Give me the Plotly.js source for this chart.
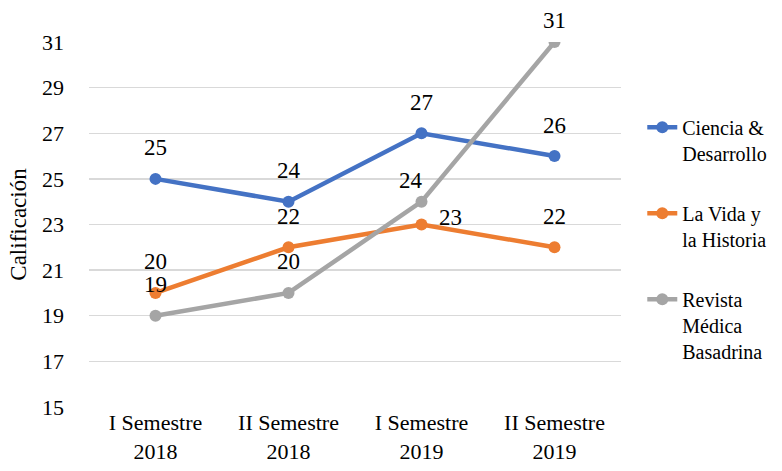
<!DOCTYPE html>
<html>
<head>
<meta charset="utf-8">
<script src="https://cdn.plot.ly/plotly-3.0.1.min.js"></script>
<style>
html,body{margin:0;padding:0;background:#fff;}
#chart{width:782px;height:471px;}
#dbg{position:absolute;left:0;top:0;font:11px monospace;white-space:pre;color:#fff;pointer-events:none;}
</style>
</head>
<body>
<div id="chart"></div>
<div id="dbg"></div>
<script>
var categories = ["I Semestre<br>2018", "II Semestre<br>2018", "I Semestre<br>2019", "II Semestre<br>2019"];
var seriesNames = ["Ciencia &<br>Desarrollo", "La Vida y<br>la Historia", "Revista<br>Médica<br>Basadrina"];
var cienciaValues = [25, 24, 27, 26];
var vidaValues = [20, 22, 23, 22];
var revistaValues = [19, 20, 24, 31];
var seriesColors = ["#4472C4", "#ED7D31", "#A5A5A5"];
var yTickValues = [15, 17, 19, 21, 23, 25, 27, 29, 31];
var yTitle = "Calificación";

var allValues = [cienciaValues, vidaValues, revistaValues];
var labelXShift = [[0,0,0,0],[0,0,29,0],[0,0,-11,0]];
var labelYShift = [[31,31,31,31],[31,31,7,31],[31,31,21,22]];

var FONT = "Liberation Serif";
var INK = "rgb(0, 0, 0)";
function serif(t){ return "<span style=\"font-family:'Liberation Serif'\">" + t + "</span>"; }

var traces = allValues.map(function(vals, i){
  return {
    type: "scatter", mode: "lines+markers",
    x: categories, y: vals, name: seriesNames[i],
    legendgroup: "g" + i,
    line: {color: seriesColors[i], width: 4.5},
    marker: {color: seriesColors[i], size: 12},
    hoverinfo: "skip"
  };
});

var annotations = [];
allValues.forEach(function(vals, i){
  vals.forEach(function(v, j){
    annotations.push({
      x: categories[j], y: v, xref: "x", yref: "y", text: serif(String(v)),
      showarrow: false, xshift: labelXShift[i][j], yshift: labelYShift[i][j],
      font: {family: FONT, size: 23, color: INK}
    });
  });
});

var layout = {
  width: 782, height: 471,
  margin: {l: 89, r: 161, t: 42, b: 64, autoexpand: false},
  paper_bgcolor: "#fff", plot_bgcolor: "#fff",
  showlegend: true,
  legend: {
    x: 1.040, xanchor: "left", y: 0.82, yanchor: "top",
    font: {family: FONT, size: 20, color: INK},
    valign: "top", tracegroupgap: 31,
    bgcolor: "rgba(0,0,0,0)"
  },
  xaxis: {
    type: "category", range: [-0.5, 3.5], showgrid: false, zeroline: false,
    showline: false, ticks: "", tickfont: {family: FONT, size: 22, color: INK}
  },
  yaxis: {
    range: [15, 31], tickvals: yTickValues, ticktext: yTickValues.map(function(v){ return serif(String(v)); }),
    showgrid: true, gridcolor: "#D9D9D9", gridwidth: 1.3, zeroline: false, showline: false,
    ticks: "", ticklabelstandoff: 24,
    tickfont: {family: FONT, size: 22, color: INK},
    title: {text: serif(yTitle), font: {family: FONT, size: 23, color: INK}, standoff: 8}
  },
  annotations: annotations
};

Plotly.newPlot("chart", traces, layout, {displayModeBar: false, staticPlot: true}).then(function(){
  var out = [];
  var texts = document.querySelectorAll("#chart text");
  for (var k = 0; k < texts.length; k++) { out.push(getComputedStyle(texts[k]).fontFamily); }
  var ok = document.fonts ? document.fonts.check('22px "Liberation Serif"') : true;
  document.getElementById("dbg").textContent = "." + (ok ? "" : " ") + (out.length ? "" : "");
});
</script>
</body>
</html>
